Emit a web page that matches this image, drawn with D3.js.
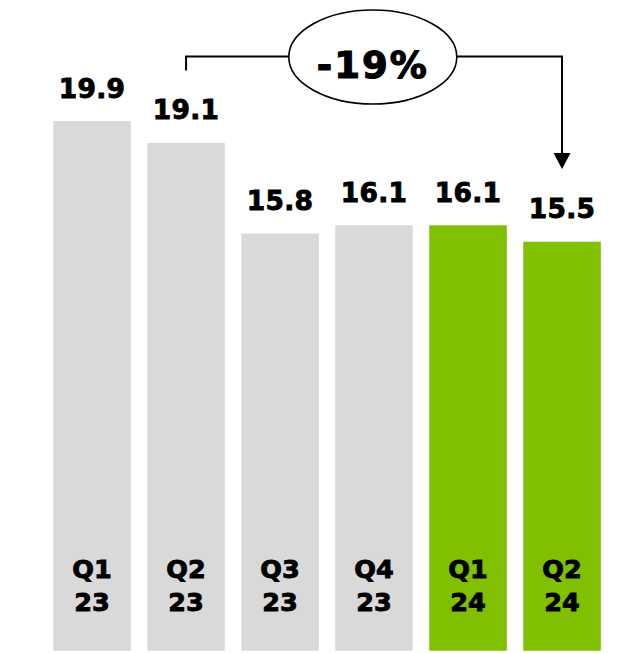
<!DOCTYPE html>
<html>
<head>
<meta charset="utf-8">
<script src="https://cdn.jsdelivr.net/npm/d3@7"></script>
<style>
  html, body { margin: 0; padding: 0; background: #fff; }
  svg { display: block; }
  text { font-family: "DejaVu Sans", Verdana, sans-serif; font-weight: bold; fill: #000; stroke: #000; stroke-width: 0.9; }
</style>
</head>
<body>
<script>
// Quarterly values
const quarters = ["Q1", "Q2", "Q3", "Q4", "Q1", "Q2"];
const years = ["23", "23", "23", "23", "24", "24"];
const values = [19.9, 19.1, 15.8, 16.1, 16.1, 15.5];
const changeLabel = "-19%";
// Bracket runs from the second bar to the last bar
const changeFrom = 1, changeTo = 5;

const W = 636, H = 653;
const colorPast = "#d9d9d9", colorCurrent = "#80c000";

const svg = d3.select("body").append("svg").attr("width", W).attr("height", H);

const ids = values.map((d, i) => i);
const x = d3.scaleBand().domain(ids).range([53.3, 600.8]).paddingInner(0.175).paddingOuter(0);
const y = d3.scaleLinear().domain([0, 19.9]).range([667, 121]);

// plot area is cut just above the bottom edge
svg.append("defs").append("clipPath").attr("id", "plot")
  .append("rect").attr("x", 0).attr("y", 0).attr("width", W).attr("height", 650.7);

const g = svg.append("g").attr("clip-path", "url(#plot)");

g.selectAll("rect.bar").data(values).join("rect")
  .attr("class", "bar")
  .attr("x", (d, i) => x(i))
  .attr("width", x.bandwidth())
  .attr("y", d => y(d))
  .attr("height", d => y(0) - y(d))
  .attr("fill", (d, i) => years[i] === "24" ? colorCurrent : colorPast);

// value labels above bars
svg.selectAll("text.val").data(values).join("text")
  .attr("class", "val")
  .attr("x", (d, i) => x(i) + x.bandwidth() / 2)
  .attr("y", d => y(d) - 23.5)
  .attr("text-anchor", "middle")
  .attr("font-size", 26.5)
  .attr("letter-spacing", 0.3)
  .text(d => d.toFixed(1));

// category labels inside bars
const cat = svg.selectAll("text.cat").data(ids).join("text")
  .attr("class", "cat")
  .attr("text-anchor", "middle")
  .attr("font-size", 25.5);
cat.append("tspan")
  .attr("x", i => x(i) + x.bandwidth() / 2)
  .attr("y", 578)
  .text(i => quarters[i]);
cat.append("tspan")
  .attr("x", i => x(i) + x.bandwidth() / 2)
  .attr("y", 610.5)
  .text(i => years[i]);

// change bracket with arrow
const x1 = x(changeFrom) + x.bandwidth() / 2;
const x2 = x(changeTo) + x.bandwidth() / 2;
const lineY = 56.5;
const tipY = 169;

svg.append("path")
  .attr("d", `M${x1},${y(values[changeFrom]) - 72.5}V${lineY}H${x2}V${tipY - 14}`)
  .attr("fill", "none").attr("stroke", "#000").attr("stroke-width", 2);

svg.append("path")
  .attr("d", `M${x2 - 8.5},${tipY - 16}L${x2 + 8.5},${tipY - 16}L${x2},${tipY}Z`)
  .attr("fill", "#000");

const cx = 372.8, cy = 57;
svg.append("ellipse")
  .attr("cx", cx).attr("cy", cy).attr("rx", 84).attr("ry", 47)
  .attr("fill", "#fff").attr("stroke", "#000").attr("stroke-width", 1.6);

svg.append("text")
  .attr("x", cx).attr("y", 78.3)
  .attr("text-anchor", "middle")
  .attr("font-size", 37)
  .attr("letter-spacing", 2)
  .style("stroke-width", 1.2)
  .text(changeLabel);
</script>
</body>
</html>
